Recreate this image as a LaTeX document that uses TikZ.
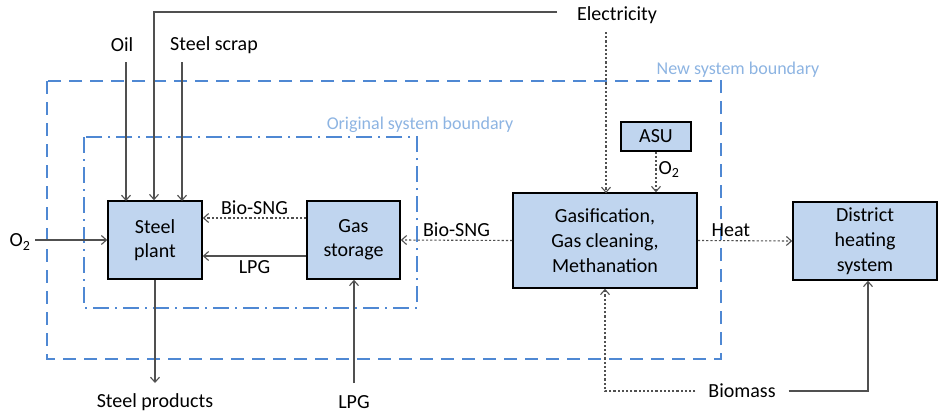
\documentclass[tikz,border=0pt]{standalone}
\usepackage{fontspec}
\setmainfont{Carlito}
\usetikzlibrary{arrows.meta}
\definecolor{boxfill}{HTML}{C0D5EF}
\definecolor{bndcol}{HTML}{4F88D3}
\definecolor{bndtext}{HTML}{8DB4E2}
\definecolor{arrcol}{HTML}{505050}
\newcommand{\sbt}[1]{\textsubscript{#1}}
\tikzset{
  x=1pt,y=-1pt,
  every node/.style={font=\fontsize{20}{24}\selectfont},
  proc/.style={draw=black,line width=1.6pt,fill=boxfill,inner sep=0pt,align=center},
  flow/.style={draw=arrcol,line width=1.1pt,-{Straight Barb[length=5pt,width=9pt]}},
  dflow/.style={flow,dash pattern=on 2.2pt off 2pt},
  lbl/.style={inner sep=1pt},
  newbnd/.style={draw=bndcol,line width=1.8pt,dash pattern=on 13pt off 8pt},
  oldbnd/.style={draw=bndcol,line width=1.8pt,dash pattern=on 16pt off 6pt on 2pt off 6pt},
  bndlbl/.style={text=bndtext,inner sep=1pt,font=\fontsize{18}{21}\selectfont}
}
\begin{document}
\begin{tikzpicture}
\useasboundingbox (0,0) rectangle (940,413);
% boundaries
\draw[newbnd] (47,81) rectangle (721,359);
\draw[oldbnd] (84,137) rectangle (417,308);
\node[bndlbl] (nb) at (738,70) {New system boundary};
\node[bndlbl] (ob) at (420,125) {Original system boundary};
% boxes
\node[proc,minimum width=94pt,minimum height=78pt] (sp) at (155,240) {Steel\\plant};
\node[proc,minimum width=93pt,minimum height=78pt] (gs) at (353.5,240) {Gas\\storage};
\node[proc,minimum width=184pt,minimum height=95pt,font=\fontsize{20}{25}\selectfont] (gm) at (605,240.5) {Gasification,\\Gas cleaning,\\Methanation};
\node[proc,minimum width=70pt,minimum height=29pt,line width=1.3pt] (asu) at (656,136.5) {ASU};
\node[proc,minimum width=144pt,minimum height=78pt,font=\fontsize{20}{25}\selectfont] (dh) at (865,241) {District\\heating\\system};
% external labels
\node[lbl] (el) at (617,15) {Electricity};
\node[lbl] (oil) at (122,45) {Oil};
\node[lbl] (ss) at (214,45) {Steel scrap};
\node[lbl] (o2l) at (20,242) {O\sbt{2}};
\node[lbl] (spr) at (155,402) {Steel products};
\node[lbl] (lpgb) at (354,402) {LPG};
\node[lbl,outer xsep=12pt] (bm) at (742,391) {Biomass};
\coordinate (elc) at (557,12);
\coordinate (elt) at (154,12);
\coordinate (bml) at (605,391);
\coordinate (bmr) at (868,391);
% flows
\draw[flow] (elc) -- (elt) -- (elt|-sp.north);
\draw[flow] (126,62) -- (126,201);
\draw[flow] (182,62) -- (182,201);
\draw[dflow] (606,32) -- (606,193);
\draw[dflow] (asu.south) -- (gm.north-|asu.south) node[pos=0.45,right=2pt,inner sep=0pt] {O\sbt{2}};
\draw[flow] (35,240) -- (sp.west);
\draw[dflow] (gs.west|-0,218) -- (sp.east|-0,218) node[midway,above=-1pt] {Bio-SNG};
\draw[flow] (gs.west|-0,256) -- (sp.east|-0,256) node[midway,below=1pt] {LPG};
\draw[dflow] (gm.west) -- (gs.east) node[midway,above=0pt] {Bio-SNG};
\draw[dflow] (gm.east) -- (dh.west) node[pos=0.35,above=0pt] {Heat};
\draw[flow] (sp.south) -- (155,383);
\draw[flow] (354,383) -- (gs.south-|354,0);
\draw[dflow] (bm.west) -- (bml) -- (bml|-gm.south);
\draw[flow] (bm.east) -- (bmr) -- (bmr|-dh.south);
\end{tikzpicture}
\end{document}
